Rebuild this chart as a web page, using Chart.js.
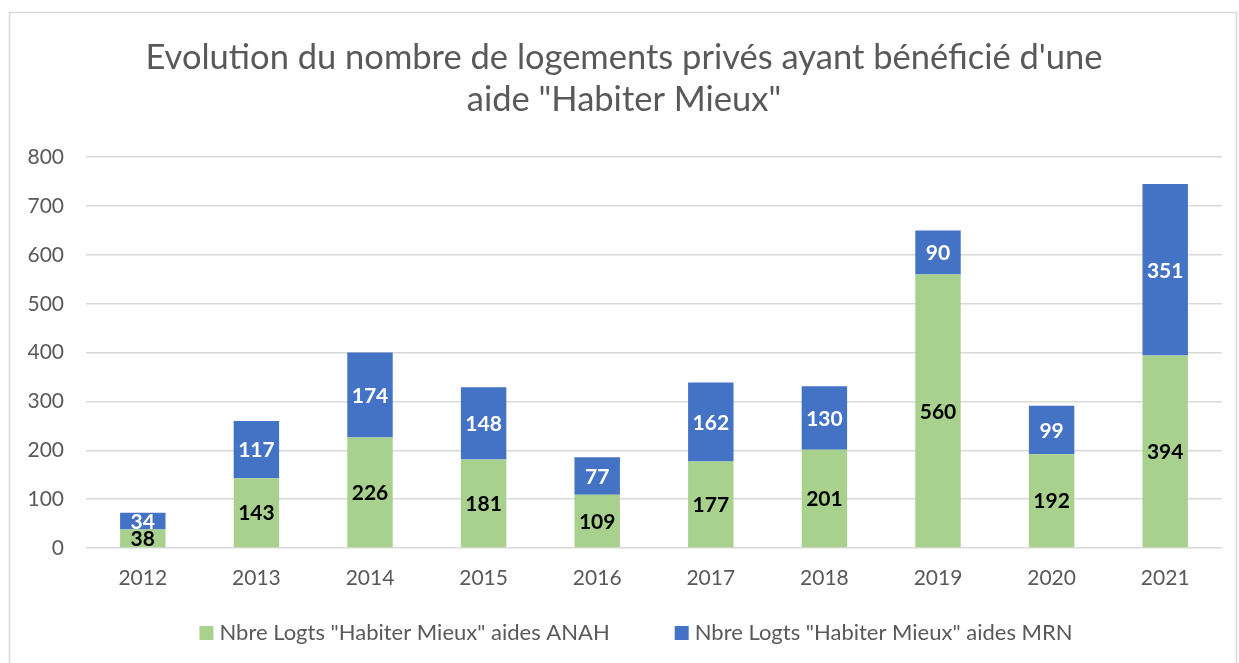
<!DOCTYPE html>
<html>
<head>
<meta charset="utf-8">
<script src="https://cdn.jsdelivr.net/npm/chart.js@4"></script>
<style>
  html, body { margin: 0; padding: 0; background: #fff; }
  #wrap { position: absolute; left: 0; top: 0; width: 1239px; height: 663px; }
</style>
</head>
<body>
<div id="wrap"><canvas id="habiterChart" width="1239" height="663"></canvas></div>
<script>
// Data
const years = ['2012', '2013', '2014', '2015', '2016', '2017', '2018', '2019', '2020', '2021'];
const anahValues = [38, 143, 226, 181, 109, 177, 201, 560, 192, 394];
const mrnValues = [34, 117, 174, 148, 77, 162, 130, 90, 99, 351];
const yTicks = [0, 100, 200, 300, 400, 500, 600, 700, 800];

const FONT = 'Lato, "Open Sans", sans-serif';

// Outer frame like the exported Excel chart
const framePlugin = {
    id: 'frame',
    beforeDraw(chart) {
        const c = chart.ctx;
        c.save();
        c.fillStyle = '#fff';
        c.fillRect(0, 0, chart.width, chart.height);
        c.strokeStyle = '#d9d9d9';
        c.lineWidth = 1.5;
        c.strokeRect(9.5, 12.5, chart.width - 12, chart.height + 20);
        c.restore();
    }
};

// Value labels centred in each segment
const valueLabels = {
    id: 'valueLabels',
    afterDatasetsDraw(chart) {
        const c = chart.ctx;
        c.save();
        c.font = 'bold 21px ' + FONT;
        c.textAlign = 'center';
        c.textBaseline = 'middle';
        chart.data.datasets.forEach(function(ds, i) {
            const meta = chart.getDatasetMeta(i);
            c.fillStyle = i === 0 ? '#000' : '#fff';
            meta.data.forEach(function(bar, j) {
                const mid = (bar.y + bar.base) / 2;
                c.fillText(String(ds.data[j]), bar.x, mid + 1);
            });
        });
        c.restore();
    }
};

// Bottom legend, spaced like the Excel one
const bottomLegend = {
    id: 'bottomLegend',
    afterDraw(chart) {
        const c = chart.ctx;
        const box = 14, gapText = 6, gapItem = 65;
        c.save();
        c.font = '22px ' + FONT;
        c.textBaseline = 'middle';
        const items = chart.data.datasets.map(ds => ({
            text: ds.label, color: ds.backgroundColor, w: c.measureText(ds.label).width
        }));
        let total = 0;
        items.forEach((it, i) => { total += box + gapText + it.w + (i ? gapItem : 0); });
        let x = 636 - total / 2;
        const y = 633;
        items.forEach(function(it) {
            c.fillStyle = it.color;
            c.fillRect(x, y - box / 2, box, box);
            c.fillStyle = '#595959';
            c.fillText(it.text, x + box + gapText, y);
            x += box + gapText + it.w + gapItem;
        });
        c.restore();
    }
};

new Chart(document.getElementById('habiterChart'), {
    type: 'bar',
    data: {
        labels: years,
        datasets: [{
            label: 'Nbre Logts "Habiter Mieux" aides ANAH',
            data: anahValues,
            backgroundColor: '#a9d18e',
            categoryPercentage: 1,
            barPercentage: 0.4
        }, {
            label: 'Nbre Logts "Habiter Mieux" aides MRN',
            data: mrnValues,
            backgroundColor: '#4472c4',
            categoryPercentage: 1,
            barPercentage: 0.4
        }]
    },
    options: {
        responsive: false,
        animation: false,
        layout: { padding: { left: 26, right: 17, top: 12, bottom: 65 } },
        plugins: {
            title: {
                display: true,
                text: ['Evolution du nombre de logements privés ayant bénéficié d\'une', 'aide "Habiter Mieux"'],
                color: '#595959',
                font: { family: FONT, size: 34.5, weight: 'normal', lineHeight: 1.22 },
                padding: { top: 25, bottom: 36 }
            },
            legend: { display: false },
            tooltip: { enabled: false }
        },
        scales: {
            x: {
                stacked: true,
                afterFit: function(scale) { scale.height = 50; },
                grid: { display: false, drawTicks: false },
                border: { display: false },
                ticks: {
                    color: '#595959',
                    font: { family: FONT, size: 21 },
                    padding: 18
                }
            },
            y: {
                stacked: true,
                min: 0,
                max: 800,
                afterBuildTicks: function(scale) {
                    scale.ticks = yTicks.map(v => ({ value: v }));
                },
                afterFit: function(scale) { scale.width = 60; },
                grid: { color: '#d9d9d9', lineWidth: 1.5, drawTicks: false },
                border: { display: false },
                ticks: {
                    color: '#595959',
                    font: { family: FONT, size: 21 },
                    padding: 22
                }
            }
        }
    },
    plugins: [framePlugin, valueLabels, bottomLegend]
});
</script>
</body>
</html>
